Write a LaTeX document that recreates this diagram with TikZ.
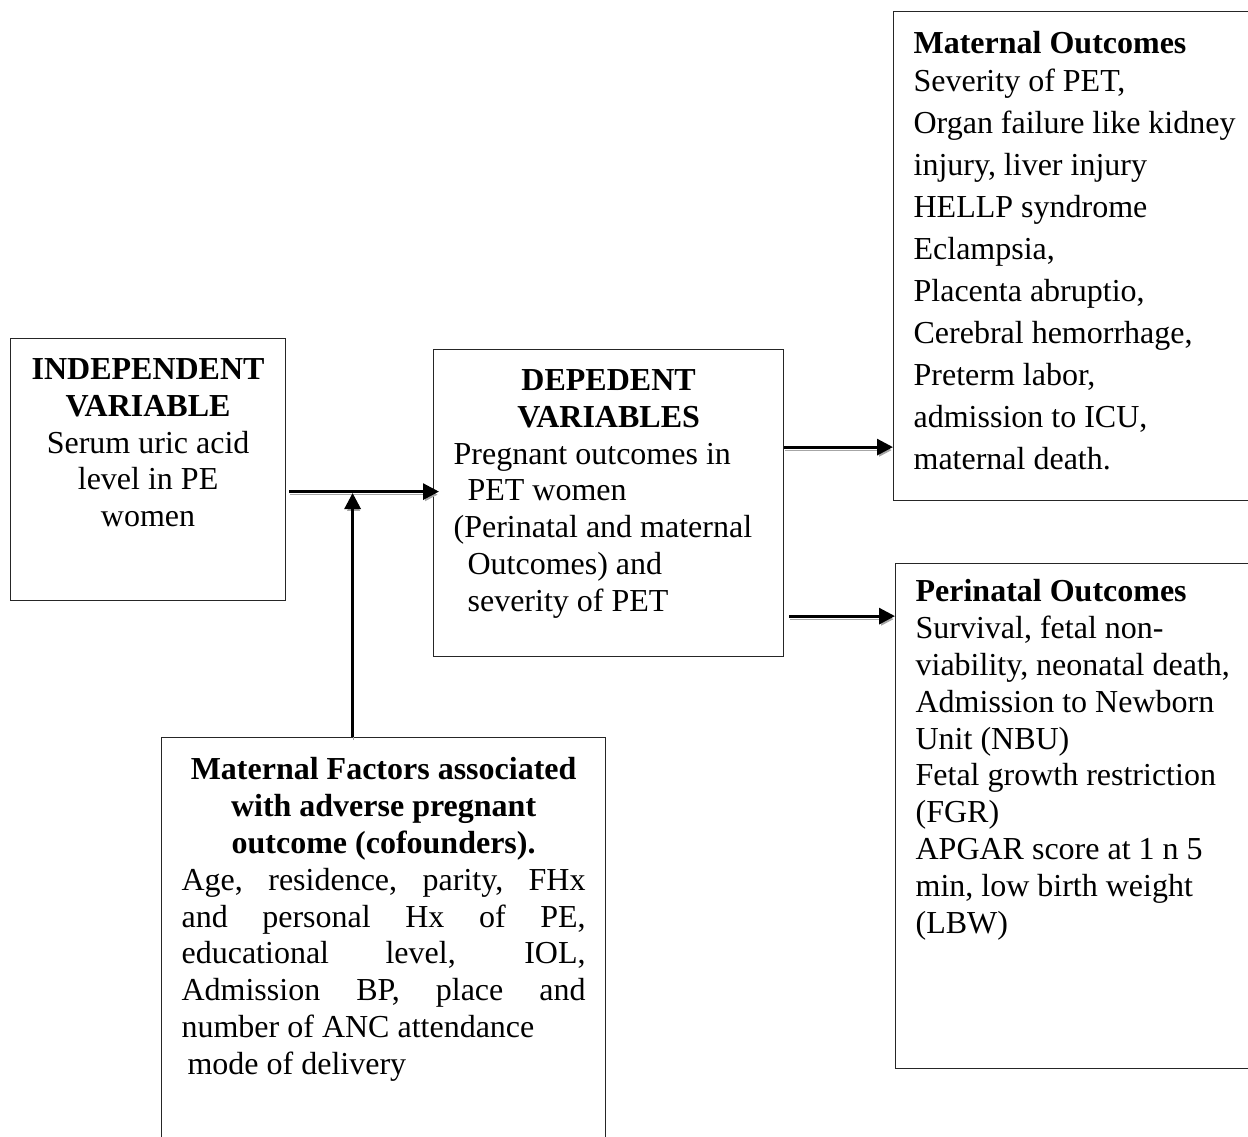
\documentclass[tikz,border=0pt]{standalone}
\usepackage{fontspec}
\setmainfont{Liberation Serif}
\usepackage{tikz}
\usetikzlibrary{calc,arrows.meta}

\begin{document}
\begin{tikzpicture}[x=0.5pt, y=-0.5pt,
        VarBox/.style ={draw=black!85, line width=0.6pt, anchor=north west, inner sep=10pt,
                        font=\fontsize{16}{18.4}\selectfont},
        Link/.style   ={-{Triangle[length=8pt, width=8pt]}, line width=1.5pt,
                        preaction={draw=black!35, transform canvas={shift={(1,3)}}}},
    ]
\useasboundingbox (0,0) rectangle (1248,1136);
\clip (0,0) rectangle (1248,1136);

% Nodes

\node (indep) [VarBox] at (10,338) {\begin{minipage}[t][111pt][t]{117.5pt}\centering
    \textbf{INDEPENDENT\\ VARIABLE}\\ Serum uric acid\\ level in PE\\ women
    \end{minipage}};

\node (dep) [VarBox] at (433,349) {\begin{minipage}[t][133.5pt][t]{155pt}
    {\centering\textbf{DEPEDENT\\ VARIABLES}\par}
    Pregnant outcomes in\\ \hspace*{7pt}PET women\\ (Perinatal and maternal\\
    \hspace*{7pt}Outcomes) and\\ \hspace*{7pt}severity of PET
    \end{minipage}};

\node (matout) [VarBox, font=\fontsize{16}{21}\selectfont] at (893,11) {\begin{minipage}[t][224.5pt][t]{180pt}
    \textbf{Maternal Outcomes}\\[-2pt] Severity of PET,\\ Organ failure like kidney\\
    injury, liver injury\\ HELLP syndrome\\ Eclampsia,\\ Placenta abruptio,\\
    Cerebral hemorrhage,\\ Preterm labor,\\ admission to ICU,\\ maternal death.
    \end{minipage}};

\node (perinat) [VarBox, inner ysep=8pt] at (895,563) {\begin{minipage}[t][236.5pt][t]{180pt}
    \textbf{Perinatal Outcomes}\\ Survival, fetal non-\\ viability, neonatal death,\\
    Admission to Newborn\\ Unit (NBU)\\ Fetal growth restriction\\ (FGR)\\
    APGAR score at 1 n 5\\ min, low birth weight\\ (LBW)
    \end{minipage}};

\node (factors) [VarBox] at (161,737) {\begin{minipage}[t][205pt][t]{202pt}
    {\centering\textbf{Maternal Factors associated\\ with adverse pregnant\\ outcome (cofounders).}\par}
    Age, residence, parity, FHx\linebreak and personal Hx of PE,\linebreak
    educational level, IOL,\linebreak Admission BP, place and\linebreak
    number of ANC attendance\\ \hspace*{3pt}mode of delivery
    \end{minipage}};

\coordinate (in1)  at ($(indep.east)+(3,22)$);
\coordinate (in2)  at ($(factors.north)+(-31,0)$);
\coordinate (meet) at ($(in2)+(0,-244)$);
\coordinate (out1) at ($(dep.east)+(0,-56)$);
\coordinate (out2) at ($(dep.east)+(5,113)$);

% Arrows
\draw[Link] (in1) -- ([xshift=3pt]in1 -| dep.west);
\draw[Link] (in2) -- (meet);
\draw[Link] (out1) -- (out1 -| matout.west);
\draw[Link] (out2) -- (out2 -| perinat.west);

\end{tikzpicture}
\end{document}
